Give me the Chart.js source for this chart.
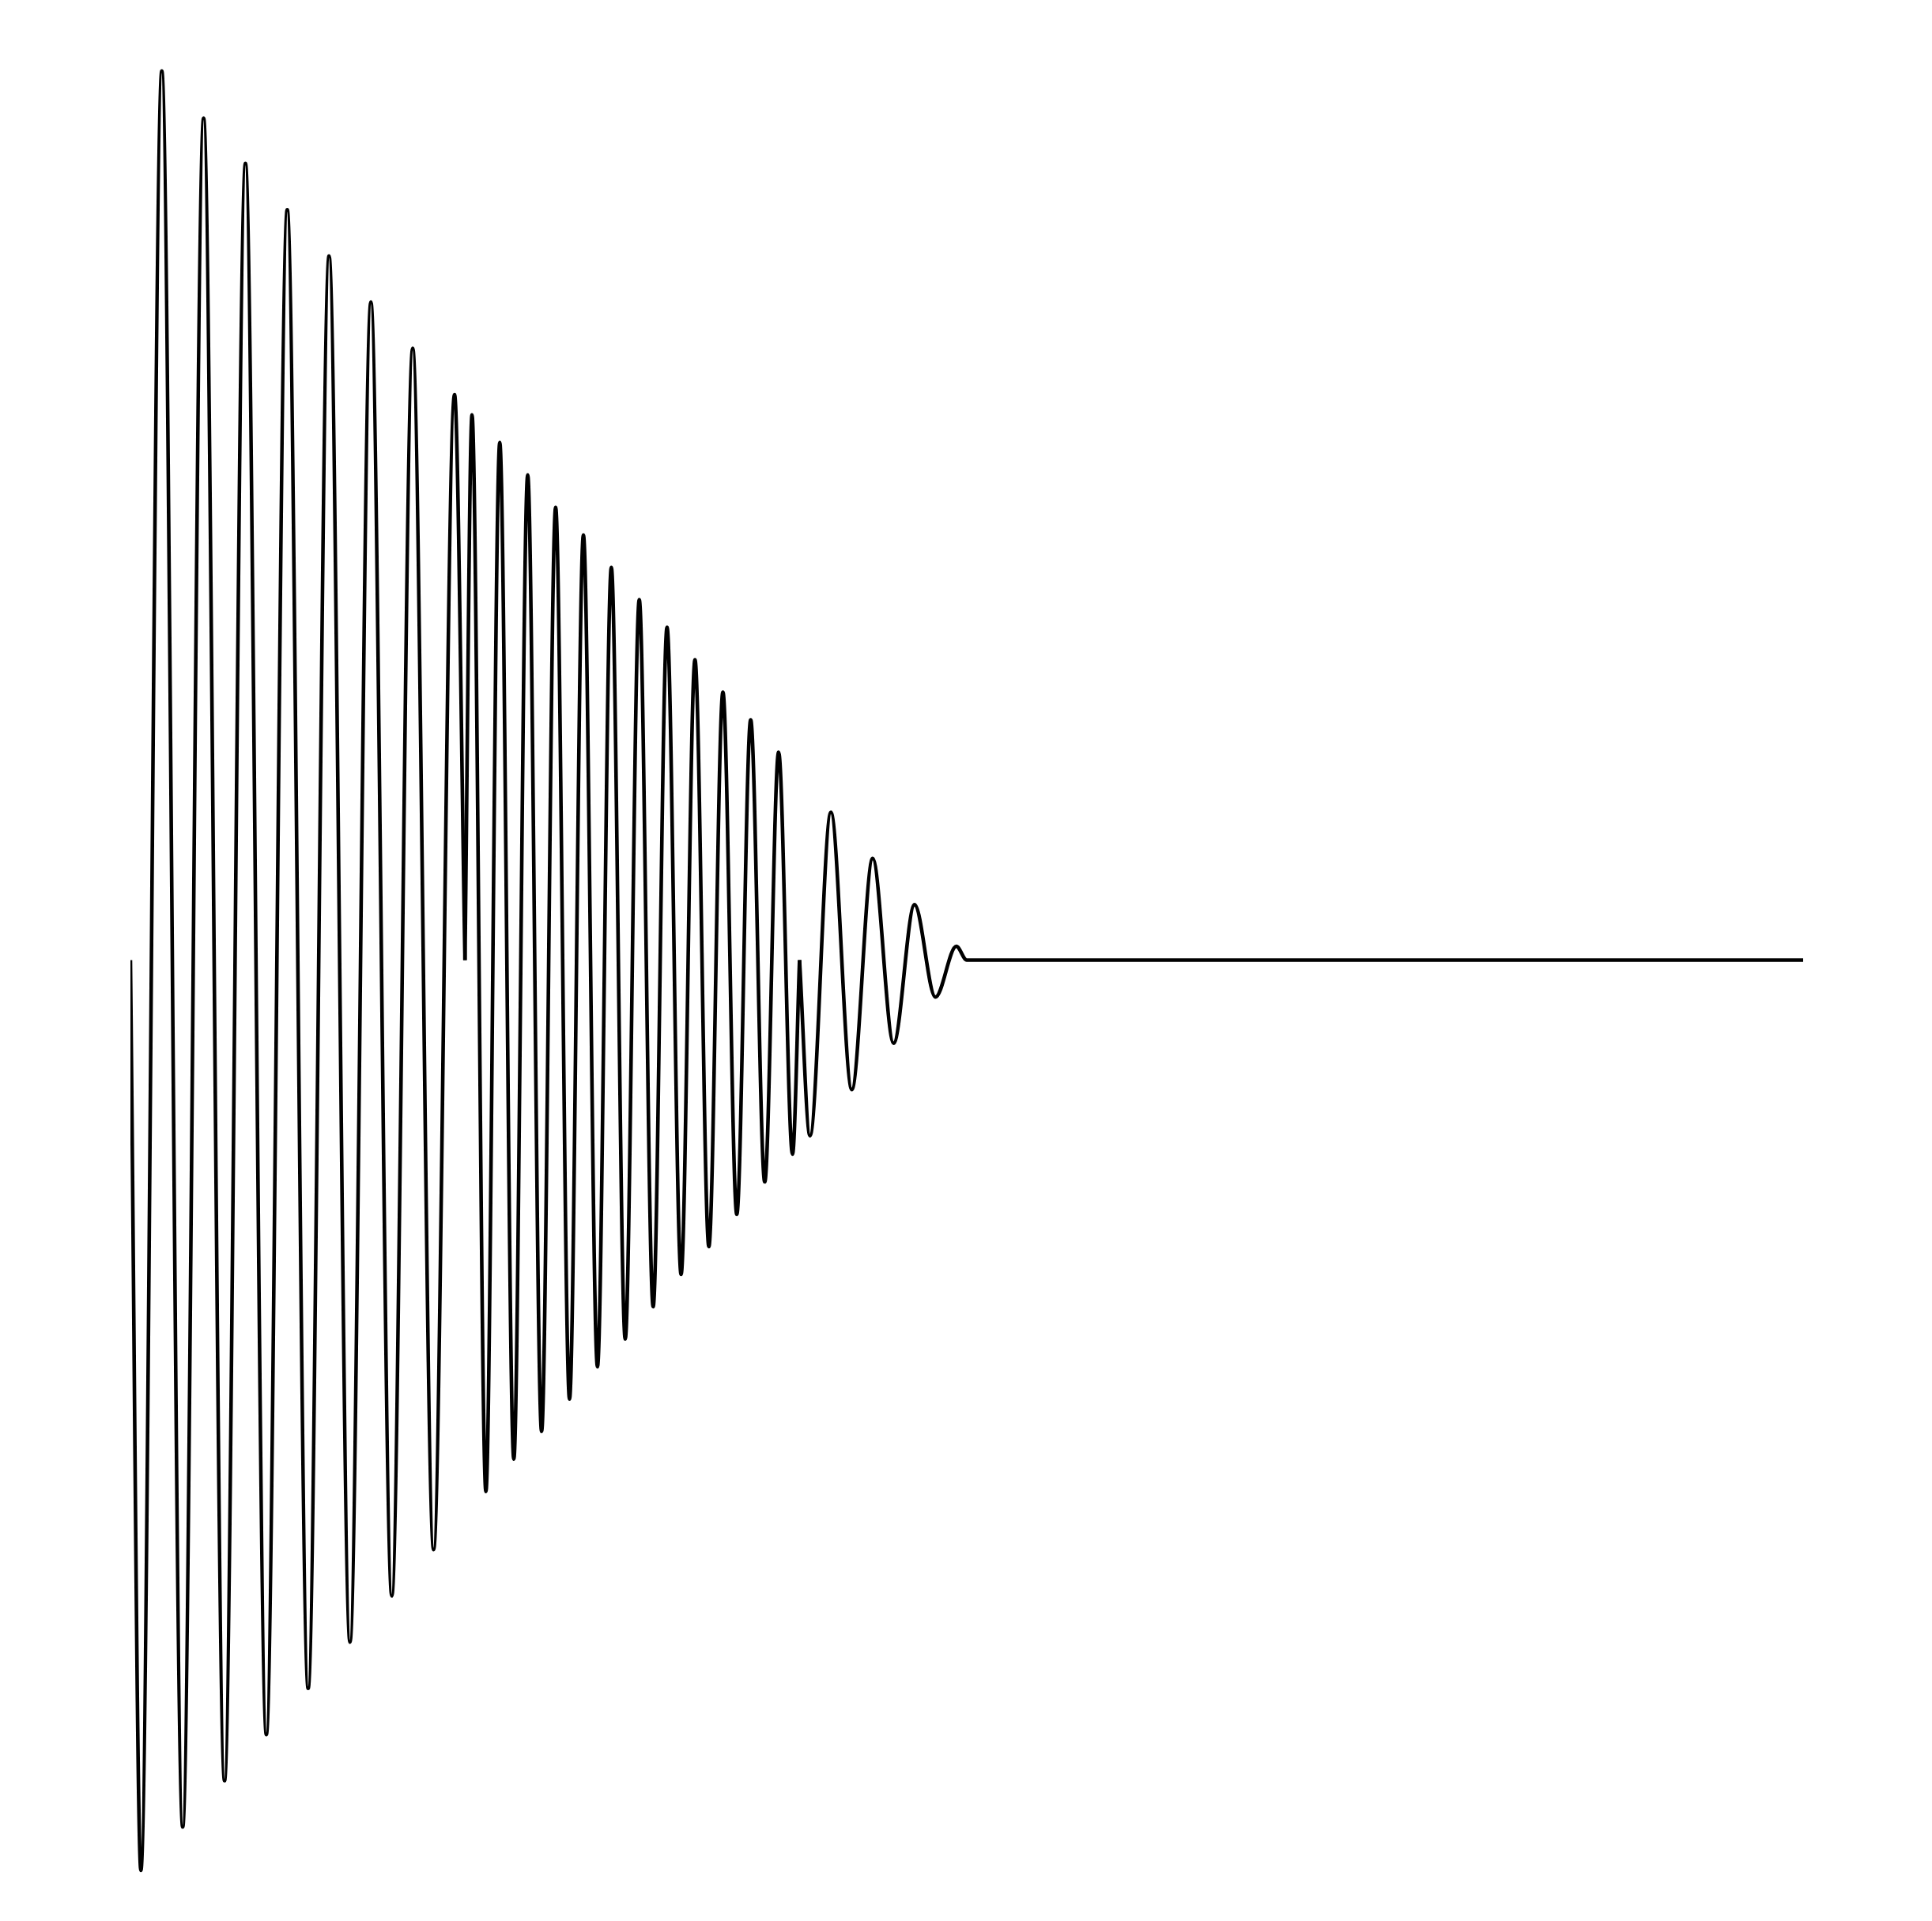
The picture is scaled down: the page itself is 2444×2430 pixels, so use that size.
<!DOCTYPE html>
<html>
<head>
<meta charset="utf-8">
<script src="https://cdn.jsdelivr.net/npm/chart.js@4"></script>
<style>
    html, body { margin: 0; padding: 0; background: #fff; }
    #wrap { width: 2444px; height: 2430px; }
</style>
</head>
<body>
<div id="wrap"><canvas id="myChart" width="2444" height="2430"></canvas></div>
<script>
    // time in ms, amplitude of each extremum
    const seg1Time = [0, 6.25, 18.75, 31.25, 43.75, 56.25, 68.75, 81.25, 93.75, 106.25, 118.75,
        131.25, 143.75, 156.25, 168.75, 181.25, 193.75, 200];
    const seg1Value = [0, -0.985, 0.962, -0.938, 0.911, -0.888, 0.862, -0.838, 0.812, -0.788, 0.762,
        -0.738, 0.712, -0.688, 0.662, -0.638, 0.612, 0];

    const seg2Time = [200, 204.2, 212.5, 220.8, 229.2, 237.5, 245.8, 254.2, 262.5, 270.8, 279.2,
        287.5, 295.8, 304.2, 312.5, 320.8, 329.2, 337.5, 345.8, 354.2, 362.5, 370.8, 379.2,
        387.5, 395.8, 400];
    const seg2Value = [0, 0.59, -0.575, 0.56, -0.54, 0.525, -0.51, 0.49, -0.475, 0.46, -0.44,
        0.425, -0.41, 0.39, -0.375, 0.36, -0.34, 0.325, -0.31, 0.29, -0.275, 0.26, -0.24,
        0.225, -0.21, 0];

    const seg3Time = [400, 406.25, 418.75, 431.25, 443.75, 456.25, 468.75, 481.25, 493.75, 500, 1000];
    const seg3Value = [0, -0.19, 0.16, -0.14, 0.11, -0.09, 0.06, -0.04, 0.015, 0, 0];

    const toPoints = (xs, ys) => xs.map((x, i) => ({x: x, y: ys[i]}));

    const lineStyle = {
        borderColor: '#000',
        borderWidth: 4.6,
        pointRadius: 0,
        fill: false,
        cubicInterpolationMode: 'monotone',
    };

    const ctx = document.getElementById('myChart');

    new Chart(ctx, {
        type: 'line',
        data: {
            datasets: [
                {data: toPoints(seg1Time, seg1Value), ...lineStyle},
                {data: toPoints(seg2Time, seg2Value), ...lineStyle},
                {data: toPoints(seg3Time, seg3Value), ...lineStyle},
            ]
        },
        options: {
            responsive: false,
            animation: false,
            layout: {
                padding: {left: 165, right: 163, top: 45.5, bottom: 46.5}
            },
            plugins: {
                legend: {display: false},
                tooltip: {enabled: false}
            },
            scales: {
                x: {type: 'linear', min: 0, max: 1000, display: false},
                y: {min: -1, max: 1, display: false}
            }
        }
    });
</script>
</body>
</html>
